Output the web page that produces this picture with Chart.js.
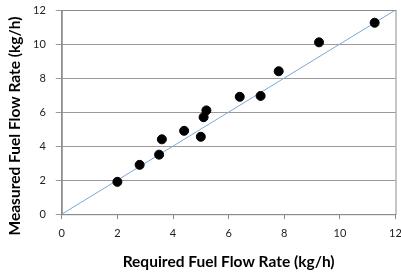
<!DOCTYPE html>
<html>
<head>
<meta charset="utf-8">
<script src="https://cdn.jsdelivr.net/npm/chart.js@4/dist/chart.umd.min.js"></script>
<style>
  html, body { margin: 0; padding: 0; background: #fff; }
  #wrap { width: 401px; height: 272px; }
</style>
</head>
<body>
<div id="wrap"><canvas id="fuelChart"></canvas></div>
<script>
// measured points
var requiredFlow = [2.0, 2.8, 3.5, 3.6, 4.4, 5.0, 5.1, 5.2, 6.4, 7.15, 7.8, 9.25, 11.25];
var measuredFlow = [1.9, 2.9, 3.5, 4.4, 4.9, 4.55, 5.7, 6.1, 6.9, 6.95, 8.4, 10.1, 11.25];
// 1:1 reference line
var lineX = [0, 12];
var lineY = [0, 12];
var tickValues = [0, 2, 4, 6, 8, 10, 12];
var yTitle = 'Measured Fuel Flow Rate (kg/h)';
var xTitle = 'Required Fuel Flow Rate (kg/h)';

var points = requiredFlow.map(function (x, i) { return { x: x, y: measuredFlow[i] }; });
var diag = lineX.map(function (x, i) { return { x: x, y: lineY[i] }; });

var font = "Lato, 'Liberation Sans', sans-serif";

// grey frame around the plot area + the vertical axis title (sits a bit low, like the original)
var framePlugin = {
    id: 'frame',
    afterDraw: function (chart) {
        var a = chart.chartArea;
        var c = chart.ctx;
        c.save();
        c.strokeStyle = '#8c8c8c';
        c.lineWidth = 1;
        c.strokeRect(a.left + 0.5, a.top + 0.5, a.right - a.left, a.bottom - a.top);
        c.translate(15, 126);
        c.rotate(-Math.PI / 2);
        c.fillStyle = '#000';
        c.font = 'bold 15.5px ' + font;
        c.textAlign = 'center';
        c.textBaseline = 'middle';
        c.fillText(yTitle, 0, 0);
        c.restore();
    }
};

var ctx = document.getElementById('fuelChart').getContext('2d');
var chart = new Chart(ctx, {
    type: 'scatter',
    data: {
        datasets: [{
            type: 'line',
            data: diag,
            borderColor: '#7ea7d8',
            borderWidth: 1,
            pointRadius: 0,
            fill: false,
            order: 2
        }, {
            data: points,
            backgroundColor: '#000',
            borderColor: '#000',
            pointRadius: 4.5,
            pointHoverRadius: 4.5,
            order: 1
        }]
    },
    plugins: [framePlugin],
    options: {
        responsive: true,
        maintainAspectRatio: false,
        animation: false,
        layout: { padding: { top: 10, right: 1, bottom: 1, left: 23 } },
        plugins: {
            legend: { display: false },
            tooltip: { enabled: false }
        },
        scales: {
            x: {
                type: 'linear',
                min: 0,
                max: 12,
                afterBuildTicks: function (s) { s.ticks = tickValues.map(function (v) { return { value: v }; }); },
                afterFit: function (s) { s.paddingRight = 0; s.paddingLeft = 0; },
                grid: { drawOnChartArea: false, color: '#8c8c8c', tickLength: 5 },
                border: { color: '#8c8c8c' },
                ticks: { color: '#222', font: { family: font, size: 11 }, padding: 8, maxRotation: 0 },
                title: {
                    display: true,
                    text: xTitle,
                    color: '#000',
                    font: { family: font, size: 15.5, weight: 'bold' },
                    padding: { top: 4, bottom: 0 }
                }
            },
            y: {
                type: 'linear',
                min: 0,
                max: 12,
                afterBuildTicks: function (s) { s.ticks = tickValues.map(function (v) { return { value: v }; }); },
                afterFit: function (s) { s.paddingTop = 0; s.paddingBottom = 0; },
                grid: { color: '#9a9a9a', tickLength: 6 },
                border: { color: '#8c8c8c' },
                ticks: { color: '#222', font: { family: font, size: 11 }, padding: 10 }
            }
        }
    }
});
</script>
</body>
</html>
